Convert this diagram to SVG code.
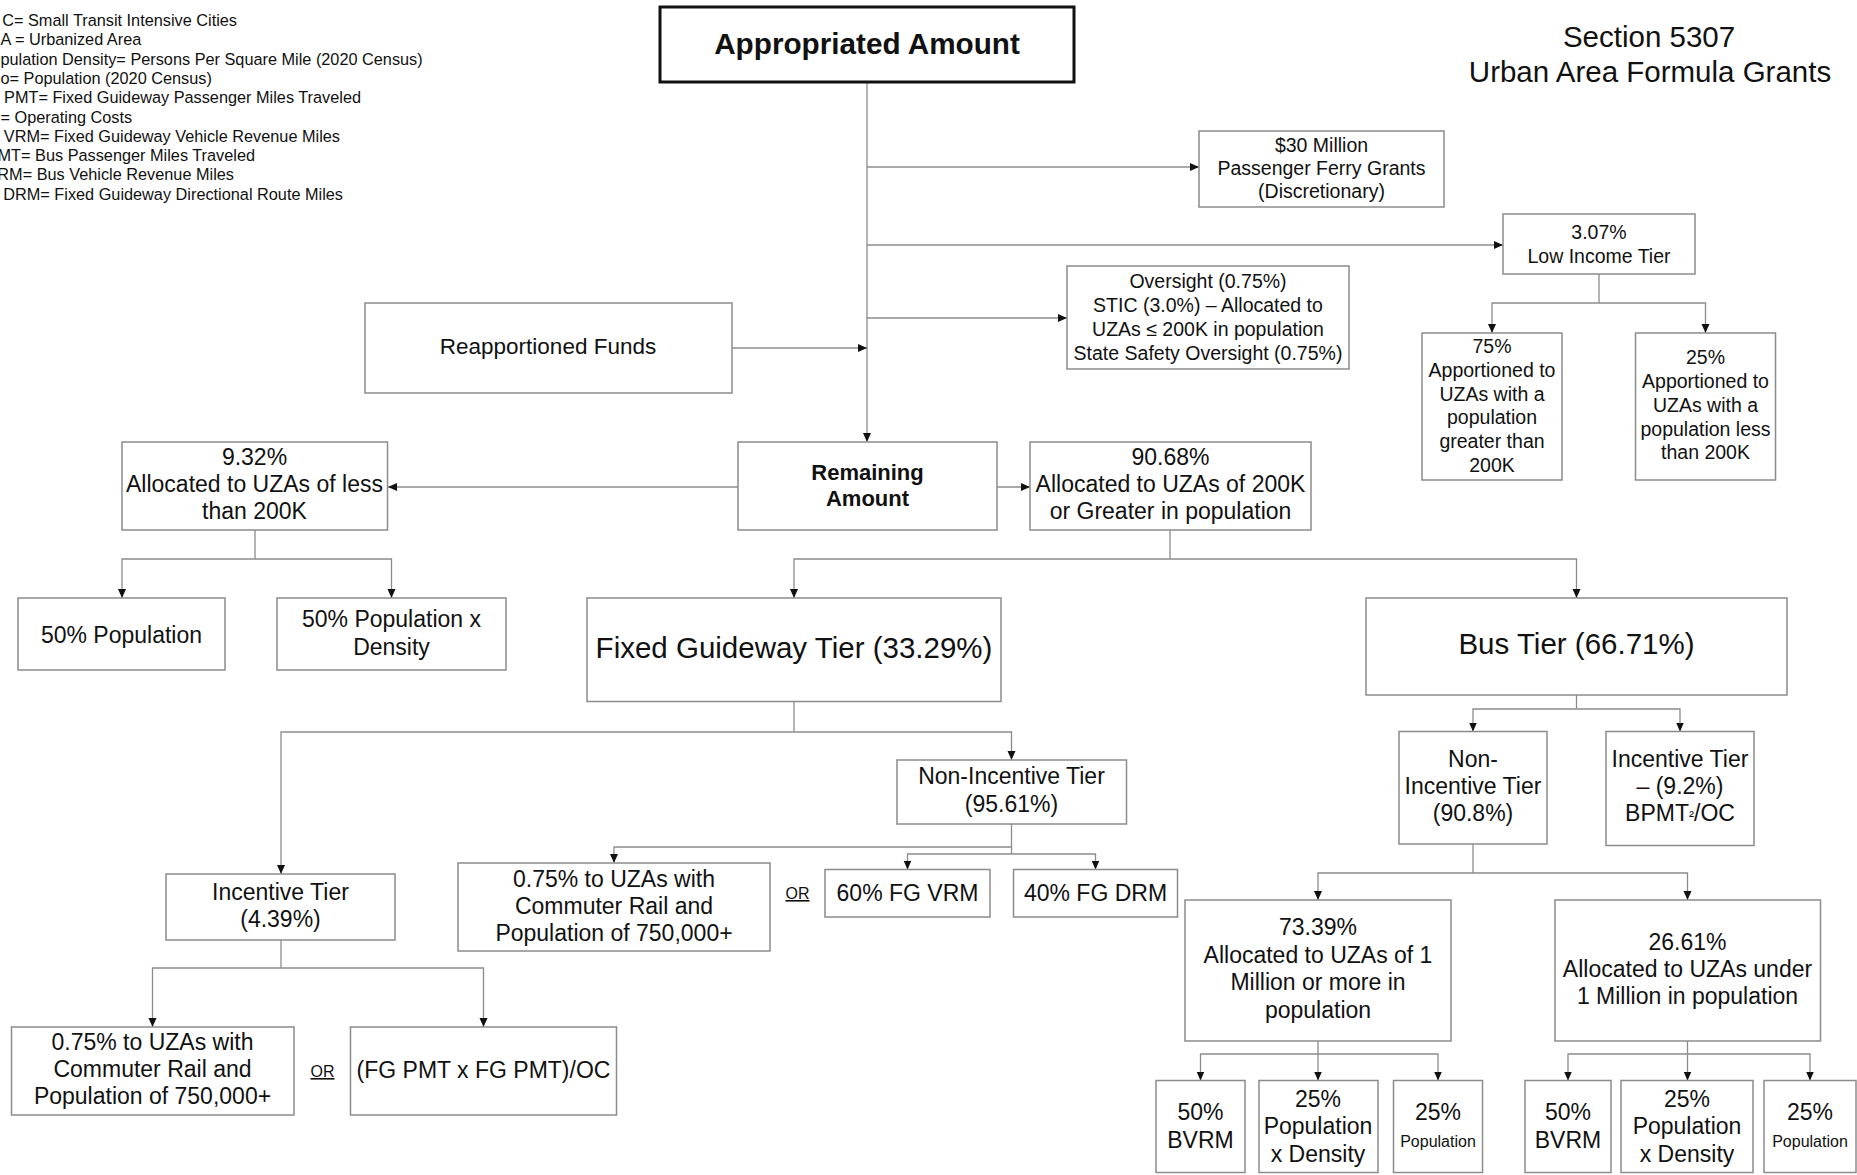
<svg xmlns="http://www.w3.org/2000/svg" width="1857" height="1175" viewBox="0 0 1857 1175">
<defs>
<marker id="ah" markerWidth="9" markerHeight="9" refX="9" refY="4.5" orient="auto" markerUnits="userSpaceOnUse">
<path d="M0,0.5 L9,4.5 L0,8.5 z" fill="#111"/>
</marker>
<style>
text{font-family:"Liberation Sans",Arial,sans-serif;fill:#111;text-anchor:middle}
.leg{font-size:16.3px;text-anchor:end}
.legs{font-size:16.3px;text-anchor:start}
.s{font-size:19.5px}
.m{font-size:23px}
.l{font-size:29.5px}
.t{font-size:29.5px}
.xs{font-size:16px}
.or{font-size:16px;text-decoration:underline}
.b{font-weight:bold}
.box{fill:#fff;stroke:#8c8c8c;stroke-width:1.5}
.main{fill:#fff;stroke:#111;stroke-width:3}
.c path{fill:none;stroke:#8c8c8c;stroke-width:1.3}
.c path.a{marker-end:url(#ah)}
</style>
</defs>
<rect width="1857" height="1175" fill="#fff"/>

<g id="legend">
<text class="leg" x="237" y="26">C= Small Transit Intensive Cities</text>
<text class="legs" x="0.5" y="45.3">A = Urbanized Area</text>
<text class="legs" x="0.5" y="64.6">pulation Density= Persons Per Square Mile (2020 Census)</text>
<text class="legs" x="0.5" y="83.9">o= Population (2020 Census)</text>
<text class="leg" x="361" y="103.2">PMT= Fixed Guideway Passenger Miles Traveled</text>
<text class="legs" x="0.5" y="122.5">= Operating Costs</text>
<text class="leg" x="340" y="141.8">VRM= Fixed Guideway Vehicle Revenue Miles</text>
<text class="leg" x="255" y="161.1">MT= Bus Passenger Miles Traveled</text>
<text class="leg" x="234" y="180.4">RM= Bus Vehicle Revenue Miles</text>
<text class="leg" x="343" y="199.7">DRM= Fixed Guideway Directional Route Miles</text>
</g>

<g id="title">
<text class="t" x="1649" y="47">Section 5307</text>
<text class="t" x="1650" y="82">Urban Area Formula Grants</text>
</g>

<g class="c" id="connectors">
<path class="a" d="M867,82 V442"/>
<path class="a" d="M867,167 H1199"/>
<path class="a" d="M867,245 H1503"/>
<path class="a" d="M867,318 H1067"/>
<path class="a" d="M732,348 H867"/>
<path class="a" d="M738,487 H388"/>
<path class="a" d="M997,487 H1030"/>
<path d="M1599,274 V303"/>
<path class="a" d="M1599,303 H1492 V333"/>
<path class="a" d="M1599,303 H1705.5 V333"/>
<path d="M255,530 V559"/>
<path class="a" d="M255,559 H122 V598"/>
<path class="a" d="M255,559 H391.5 V598"/>
<path d="M1170,530 V559"/>
<path class="a" d="M1170,559 H794 V598"/>
<path class="a" d="M1170,559 H1576.5 V598"/>
<path d="M794,702 V732"/>
<path class="a" d="M794,732 H281 V874"/>
<path class="a" d="M794,732 H1011.5 V760"/>
<path d="M1576.5,695 V709"/>
<path class="a" d="M1576.5,709 H1473 V731.5"/>
<path class="a" d="M1576.5,709 H1680 V731.5"/>
<path d="M1011.5,824 V854"/>
<path class="a" d="M1011.5,847 H614 V863"/>
<path class="a" d="M1011.5,854 H907.5 V869.5"/>
<path class="a" d="M1011.5,854 H1095.5 V869.5"/>
<path d="M281,940 V968"/>
<path class="a" d="M281,968 H152.5 V1027"/>
<path class="a" d="M281,968 H483.5 V1027"/>
<path d="M1473,844 V873"/>
<path class="a" d="M1473,873 H1318 V900"/>
<path class="a" d="M1473,873 H1687.5 V900"/>
<path d="M1318,1041 V1054"/>
<path class="a" d="M1318,1054 H1200.5 V1080.5"/>
<path class="a" d="M1318,1054 V1080.5"/>
<path class="a" d="M1318,1054 H1438 V1080.5"/>
<path d="M1687.5,1041 V1054"/>
<path class="a" d="M1687.5,1054 H1568 V1080.5"/>
<path class="a" d="M1687.5,1054 V1080.5"/>
<path class="a" d="M1687.5,1054 H1810 V1080.5"/>
</g>

<g id="appropriated">
<rect class="main" x="660" y="7" width="414" height="75"/>
<text class="b" x="867" y="54" style="font-size:29.7px">Appropriated Amount</text>
</g>
<g id="ferry">
<rect class="box" x="1199" y="131" width="245" height="76"/>
<text class="s" x="1321.5" y="152">$30 Million</text>
<text class="s" x="1321.5" y="175">Passenger Ferry Grants</text>
<text class="s" x="1321.5" y="198">(Discretionary)</text>
</g>
<g id="lowincome">
<rect class="box" x="1503" y="214" width="192" height="60"/>
<text class="s" x="1599" y="239">3.07%</text>
<text class="s" x="1599" y="263">Low Income Tier</text>
</g>
<g id="oversight">
<rect class="box" x="1067" y="266" width="282" height="103"/>
<text class="s" x="1208" y="288">Oversight (0.75%)</text>
<text class="s" x="1208" y="312">STIC (3.0%) – Allocated to</text>
<text class="s" x="1208" y="336">UZAs ≤ 200K in population</text>
<text class="s" x="1208" y="359.5">State Safety Oversight (0.75%)</text>
</g>
<g id="reapportioned">
<rect class="box" x="365" y="303" width="367" height="90"/>
<text x="548" y="354" style="font-size:22.5px">Reapportioned Funds</text>
</g>
<g id="li75">
<rect class="box" x="1422" y="333" width="140" height="147"/>
<text class="s" x="1492" y="352.5">75%</text>
<text class="s" x="1492" y="376.5">Apportioned to</text>
<text class="s" x="1492" y="400.5">UZAs with a</text>
<text class="s" x="1492" y="424">population</text>
<text class="s" x="1492" y="447.5">greater than</text>
<text class="s" x="1492" y="471.5">200K</text>
</g>
<g id="li25">
<rect class="box" x="1635.5" y="333" width="140" height="147"/>
<text class="s" x="1705.5" y="364">25%</text>
<text class="s" x="1705.5" y="388">Apportioned to</text>
<text class="s" x="1705.5" y="412">UZAs with a</text>
<text class="s" x="1705.5" y="435.5">population less</text>
<text class="s" x="1705.5" y="459">than 200K</text>
</g>
<g id="remaining">
<rect class="box" x="738" y="442" width="259" height="88"/>
<text class="b" x="867.5" y="480" style="font-size:22px">Remaining</text>
<text class="b" x="867.5" y="506" style="font-size:22px">Amount</text>
</g>
<g id="small">
<rect class="box" x="122" y="442" width="265.5" height="88"/>
<text class="m" x="254.5" y="465">9.32%</text>
<text class="m" x="254.5" y="492">Allocated to UZAs of less</text>
<text class="m" x="254.5" y="519">than 200K</text>
</g>
<g id="large">
<rect class="box" x="1030" y="442" width="281" height="88"/>
<text class="m" x="1170.5" y="465">90.68%</text>
<text class="m" x="1170.5" y="492">Allocated to UZAs of 200K</text>
<text class="m" x="1170.5" y="519">or Greater in population</text>
</g>
<g id="pop50">
<rect class="box" x="18" y="598" width="207" height="72"/>
<text class="m" x="121.5" y="643">50% Population</text>
</g>
<g id="popden50">
<rect class="box" x="277" y="598" width="229" height="72"/>
<text class="m" x="391.5" y="627">50% Population x</text>
<text class="m" x="391.5" y="655">Density</text>
</g>
<g id="fg">
<rect class="box" x="587" y="598" width="414" height="103.5"/>
<text class="l" x="794" y="658">Fixed Guideway Tier (33.29%)</text>
</g>
<g id="bus">
<rect class="box" x="1366" y="598" width="421" height="97"/>
<text class="l" x="1576.5" y="654">Bus Tier (66.71%)</text>
</g>
<g id="fgnoninc">
<rect class="box" x="897" y="760" width="229.5" height="64"/>
<text class="m" x="1011.5" y="783.5">Non-Incentive Tier</text>
<text class="m" x="1011.5" y="812">(95.61%)</text>
</g>
<g id="busnoninc">
<rect class="box" x="1399" y="731.5" width="148" height="112.5"/>
<text class="m" x="1473" y="767">Non-</text>
<text class="m" x="1473" y="794">Incentive Tier</text>
<text class="m" x="1473" y="821">(90.8%)</text>
</g>
<g id="businc">
<rect class="box" x="1606" y="731.5" width="148" height="114"/>
<text class="m" x="1680" y="767">Incentive Tier</text>
<text class="m" x="1680" y="794">– (9.2%)</text>
<text class="m" x="1680" y="821">BPMT<tspan style="font-size:15px">²</tspan>/OC</text>
</g>
<g id="fgcommuter">
<rect class="box" x="458" y="863" width="312" height="88"/>
<text class="m" x="614" y="887">0.75% to UZAs with</text>
<text class="m" x="614" y="914">Commuter Rail and</text>
<text class="m" x="614" y="941">Population of 750,000+</text>
</g>
<text class="or" x="797.5" y="899">OR</text>
<g id="fgvrm">
<rect class="box" x="825" y="869.5" width="165" height="47.5"/>
<text class="m" x="907.5" y="901">60% FG VRM</text>
</g>
<g id="fgdrm">
<rect class="box" x="1013.5" y="869.5" width="164" height="47.5"/>
<text class="m" x="1095.5" y="901">40% FG DRM</text>
</g>
<g id="fginc">
<rect class="box" x="166" y="874" width="229" height="66"/>
<text class="m" x="280.5" y="900">Incentive Tier</text>
<text class="m" x="280.5" y="927">(4.39%)</text>
</g>
<g id="inccommuter">
<rect class="box" x="11.5" y="1027" width="282.5" height="88"/>
<text class="m" x="152.5" y="1050">0.75% to UZAs with</text>
<text class="m" x="152.5" y="1077">Commuter Rail and</text>
<text class="m" x="152.5" y="1104">Population of 750,000+</text>
</g>
<text class="or" x="322.5" y="1077">OR</text>
<g id="fgpmt">
<rect class="box" x="350.5" y="1027" width="266" height="88"/>
<text class="m" x="483.5" y="1078">(FG PMT x FG PMT)/OC</text>
</g>
<g id="million">
<rect class="box" x="1185" y="900" width="266" height="141"/>
<text class="m" x="1318" y="935">73.39%</text>
<text class="m" x="1318" y="962.5">Allocated to UZAs of 1</text>
<text class="m" x="1318" y="990">Million or more in</text>
<text class="m" x="1318" y="1017.5">population</text>
</g>
<g id="undermillion">
<rect class="box" x="1555" y="900" width="265.5" height="141"/>
<text class="m" x="1687.5" y="949.5">26.61%</text>
<text class="m" x="1687.5" y="976.5">Allocated to UZAs under</text>
<text class="m" x="1687.5" y="1004">1 Million in population</text>
</g>
<g id="bvrm1">
<rect class="box" x="1156" y="1080.5" width="89" height="92"/>
<text class="m" x="1200.5" y="1120">50%</text>
<text class="m" x="1200.5" y="1148">BVRM</text>
</g>
<g id="pxd1">
<rect class="box" x="1259" y="1080.5" width="119" height="92"/>
<text class="m" x="1318" y="1107">25%</text>
<text class="m" x="1318" y="1134">Population</text>
<text class="m" x="1318" y="1161.5">x Density</text>
</g>
<g id="pop1">
<rect class="box" x="1393.5" y="1080.5" width="89" height="92"/>
<text class="m" x="1438" y="1120">25%</text>
<text class="xs" x="1438" y="1147">Population</text>
</g>
<g id="bvrm2">
<rect class="box" x="1525" y="1080.5" width="86" height="92"/>
<text class="m" x="1568" y="1120">50%</text>
<text class="m" x="1568" y="1148">BVRM</text>
</g>
<g id="pxd2">
<rect class="box" x="1621" y="1080.5" width="132" height="92"/>
<text class="m" x="1687" y="1107">25%</text>
<text class="m" x="1687" y="1134">Population</text>
<text class="m" x="1687" y="1161.5">x Density</text>
</g>
<g id="pop2">
<rect class="box" x="1764" y="1080.5" width="92" height="92"/>
<text class="m" x="1810" y="1120">25%</text>
<text class="xs" x="1810" y="1147">Population</text>
</g>
</svg>
